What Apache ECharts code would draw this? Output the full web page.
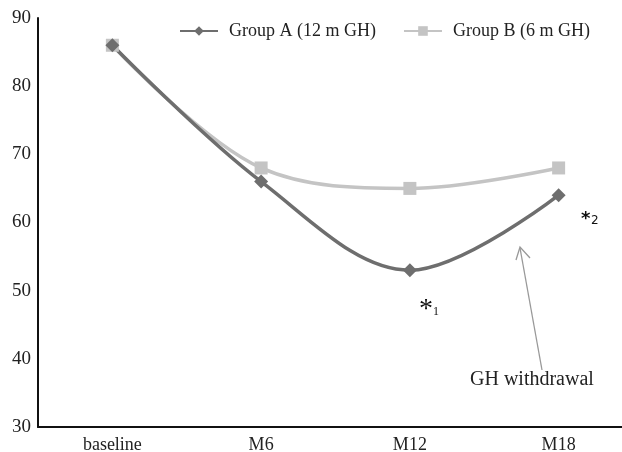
<!DOCTYPE html>
<html><head><meta charset="utf-8">
<script src="https://cdn.jsdelivr.net/npm/echarts@6/dist/echarts.min.js"></script>
<style>html,body{margin:0;padding:0;background:#fff;overflow:hidden}#c{width:640px;height:452px}</style>
</head><body><div id="c"></div>
<script>
const categories = ['baseline', 'M6', 'M12', 'M18'];
const groupA = [86, 66, 53, 64];
const groupB = [86, 68, 65, 68];
const yTicks = [30, 40, 50, 60, 70, 80, 90];
const seriesNames = ['Group A (12 m GH)', 'Group B (6 m GH)'];

const chart = echarts.init(document.getElementById('c'), null, {renderer: 'canvas'});
const font = '"Liberation Serif", "Times New Roman", serif';
chart.setOption({
  animation: false,
  textStyle: {fontFamily: font},
  grid: {left: 38, right: 7, top: 18, bottom: 25, containLabel: false, outerBoundsMode: 'none'},
  legend: {
    top: 22, left: 179, padding: 0,
    itemGap: 27, itemWidth: 38, itemHeight: 12,
    textStyle: {fontFamily: font, fontSize: 18, color: '#222', padding: [0, 0, 0, 6]},
    data: seriesNames
  },
  xAxis: {
    type: 'category', data: categories, boundaryGap: true,
    axisLine: {lineStyle: {color: '#111', width: 2}},
    axisTick: {show: false},
    axisLabel: {fontFamily: font, fontSize: 18, color: '#222', margin: 9}
  },
  yAxis: {
    type: 'value', min: yTicks[0], max: yTicks[yTicks.length - 1], interval: 10,
    axisLine: {show: true, lineStyle: {color: '#111', width: 2}},
    axisTick: {show: false},
    splitLine: {show: false},
    axisLabel: {fontFamily: font, fontSize: 19, color: '#222', margin: 7}
  },
  series: [
    {name: seriesNames[1], type: 'line', data: groupB, smooth: 0.35,
     symbol: 'rect', symbolSize: 13,
     lineStyle: {color: '#c4c4c4', width: 3.5}, itemStyle: {color: '#c4c4c4'}},
    {name: seriesNames[0], type: 'line', data: groupA, smooth: 0.35,
     symbol: 'diamond', symbolSize: 14,
     lineStyle: {color: '#6e6e6e', width: 3.5}, itemStyle: {color: '#6e6e6e'}}
  ],
  graphic: [
    {type: 'text', left: 419, top: 296, style: {text: '*', font: '28px ' + font, fill: '#111'}},
    {type: 'text', left: 433, top: 306, style: {text: '1', font: '12px ' + font, fill: '#111'}},
    {type: 'text', left: 581, top: 210, style: {text: '*', font: 'bold 18px "DejaVu Sans", sans-serif', fill: '#111'}},
    {type: 'text', left: 591, top: 215, style: {text: '2', font: '12px "DejaVu Sans", sans-serif', fill: '#111'}},
    {type: 'text', left: 470, top: 370, style: {text: 'GH withdrawal', font: '20px ' + font, fill: '#222'}},
    {type: 'line', shape: {x1: 542, y1: 370, x2: 520, y2: 248}, style: {stroke: '#999', lineWidth: 1.3}},
    {type: 'polyline', shape: {points: [[516, 260], [520, 247], [530, 258]]}, style: {stroke: '#999', lineWidth: 1.3, fill: null}}
  ]
});
</script></body></html>
